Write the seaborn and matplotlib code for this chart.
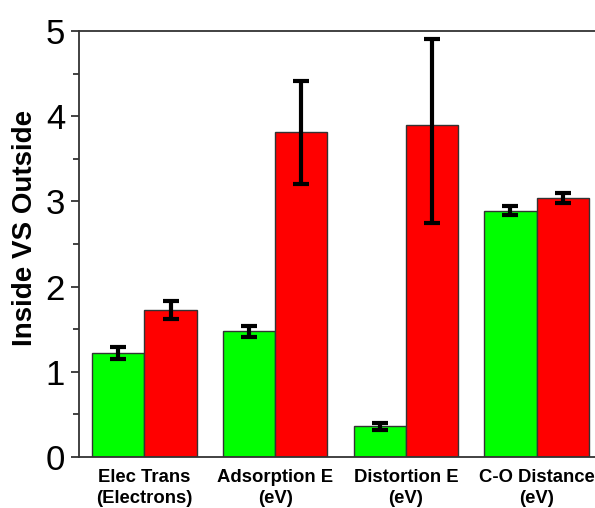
import pandas as pd
import matplotlib.pyplot as plt
import numpy as np
import seaborn as sns
from matplotlib.ticker import MultipleLocator

categories = ['Elec Trans\n(Electrons)', 'Adsorption E\n(eV)', 'Distortion E\n(eV)', 'C-O Distance\n(eV)']
inside = [1.22, 1.48, 0.36, 2.89]
inside_lo = [0.075, 0.075, 0.04, 0.05]
inside_hi = [0.075, 0.055, 0.04, 0.06]
outside = [1.73, 3.81, 3.90, 3.04]
outside_lo = [0.11, 0.60, 1.15, 0.06]
outside_hi = [0.10, 0.60, 1.01, 0.06]

df = pd.DataFrame({
    'cat': categories * 2,
    'val': inside + outside,
    'lo': inside_lo + outside_lo,
    'hi': inside_hi + outside_hi,
    'loc': ['Inside'] * 4 + ['Outside'] * 4,
})

sns.set_style('ticks')
plt.rcParams['font.family'] = ['Liberation Sans', 'DejaVu Sans']
plt.rcParams['text.color'] = 'black'
plt.rcParams['xtick.color'] = 'black'
plt.rcParams['ytick.color'] = 'black'
plt.rcParams['axes.labelcolor'] = 'black'

fig = plt.figure(figsize=(5.95, 5.08), dpi=100)
ax = fig.add_axes([79 / 595, 51 / 508, 523 / 595, 426 / 508])

sns.barplot(data=df, x='cat', y='val', hue='loc', palette=['#00ff00', '#ff0000'],
            saturation=1, width=0.8, gap=0, edgecolor='#333333', linewidth=1.0,
            errorbar=None, legend=False, ax=ax)

# error bars on bar centers, patches come in hue order
for p, lo, hi in zip(ax.patches, df['lo'], df['hi']):
    xc = p.get_x() + p.get_width() / 2
    ax.errorbar(xc, p.get_height(), yerr=[[lo], [hi]], fmt='none', ecolor='black',
                elinewidth=3, capsize=6, capthick=3, zorder=5)

ax.set_xlim(-0.5, 3.5)
ax.set_ylim(0, 5)
ax.yaxis.set_major_locator(MultipleLocator(1))
ax.yaxis.set_minor_locator(MultipleLocator(0.5))
ax.tick_params(axis='y', which='major', length=6, width=1.3, labelsize=25, pad=4, color='#333333')
ax.tick_params(axis='y', which='minor', length=4, width=1.3, color='#333333')
ax.tick_params(axis='x', length=0, pad=9)
for lab in ax.get_xticklabels():
    lab.set_fontsize(13.3)
    lab.set_fontweight('bold')
    lab.set_linespacing(1.25)
ax.set_xlabel('')
ax.set_ylabel('Inside VS Outside', fontsize=20, fontweight='bold')
ax.yaxis.set_label_coords(-0.078, 0.537)

for s in ['left', 'bottom', 'top']:
    ax.spines[s].set_visible(True)
    ax.spines[s].set_linewidth(1.3)
    ax.spines[s].set_color('#333333')
ax.spines['right'].set_visible(False)

fig.savefig('out.png', dpi=100)
